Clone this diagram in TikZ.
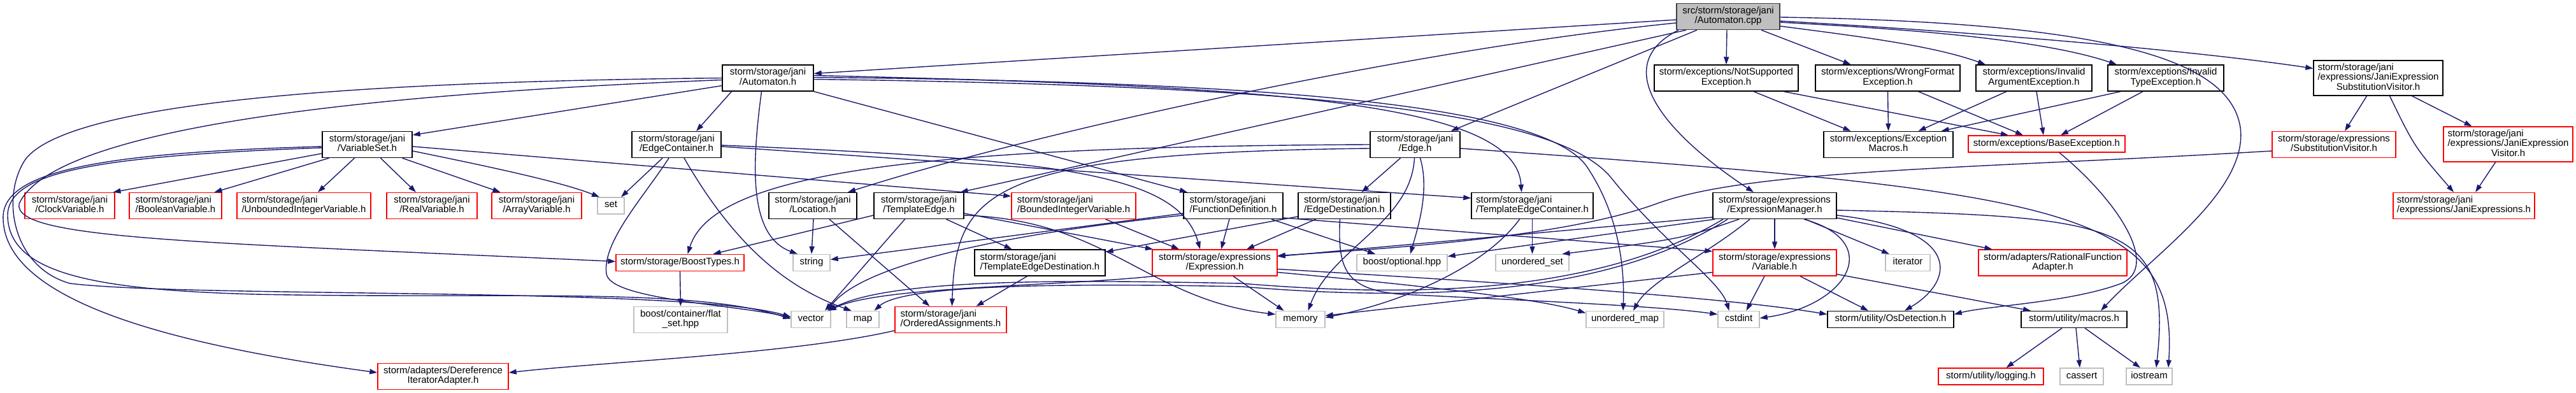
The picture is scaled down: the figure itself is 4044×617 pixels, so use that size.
\documentclass[tikz,border=0pt]{standalone}
\usepackage{fontspec}
\setmainfont{Liberation Sans}
\usetikzlibrary{arrows.meta,calc}
\definecolor{mblue}{HTML}{191970}
\definecolor{gryb}{HTML}{BFBFBF}
\definecolor{cppb}{HTML}{404040}
\newcommand{\twol}[2]{\begin{tabular}{@{}l@{}}#1\\\multicolumn{1}{@{}c@{}}{#2}\end{tabular}}
\newcommand{\threel}[3]{\begin{tabular}{@{}l@{}}#1\\#2\\\multicolumn{1}{@{}c@{}}{#3}\end{tabular}}
\newcommand{\onel}[1]{\begin{tabular}{@{}c@{}}#1\end{tabular}}
\begin{document}
\begin{tikzpicture}[x=1pt,y=-1pt,
  box/.style={draw=black,fill=white,line width=1.4pt,inner sep=0pt,font=\fontsize{15pt}{15pt}\selectfont},
  rbox/.style={box,draw=red},
  gbox/.style={box,draw=gryb},
  cbox/.style={box,draw=cppb,fill=gryb},
  hone/.style={minimum height=26pt},
  htwo/.style={minimum height=41pt},
  hthree/.style={minimum height=55pt},
  conn/.style={draw=mblue,line width=1.4pt,-{Triangle[length=12pt,width=8pt]}},
]
\fill[white] (0,0) rectangle (4044,617);
\useasboundingbox (0,0) rectangle (4044,617);

% row 0
\node[cbox,htwo,minimum width=162pt] (cpp) at (2713,26) {\twol{src/storm/storage/jani}{/Automaton.cpp}};
% row 1
\node[box,htwo,minimum width=143pt] (AutH) at (1205.5,122.5) {\twol{storm/storage/jani}{/Automaton.h}};
\node[box,htwo,minimum width=226pt] (NotSup) at (2710,122.5) {\twol{storm/exceptions/NotSupported}{Exception.h}};
\node[box,htwo,minimum width=227pt] (WrongF) at (2963.5,122.5) {\twol{storm/exceptions/WrongFormat}{Exception.h}};
\node[box,htwo,minimum width=182pt] (InvArg) at (3193,122.5) {\twol{storm/exceptions/Invalid}{ArgumentException.h}};
\node[box,htwo,minimum width=182pt] (InvType) at (3400,122.5) {\twol{storm/exceptions/Invalid}{TypeException.h}};
\node[box,hthree,minimum width=203pt] (JESV) at (3733.5,122.5) {\threel{storm/storage/jani}{/expressions/JaniExpression}{SubstitutionVisitor.h}};
% row 2
\node[box,htwo,minimum width=141pt] (VarSet) at (576.5,227) {\twol{storm/storage/jani}{/VariableSet.h}};
\node[box,htwo,minimum width=140pt] (EdgeCont) at (1062,227) {\twol{storm/storage/jani}{/EdgeContainer.h}};
\node[box,htwo,minimum width=141pt] (Edge) at (2221.5,227) {\twol{storm/storage/jani}{/Edge.h}};
\node[box,htwo,minimum width=203pt] (ExcMac) at (2964.5,227) {\twol{storm/exceptions/Exception}{Macros.h}};
\node[rbox,hone,minimum width=246pt] (BaseExc) at (3213,226) {\onel{storm/exceptions/BaseException.h}};
\node[rbox,htwo,minimum width=194pt] (SubstVis) at (3664,227) {\twol{storm/storage/expressions}{/SubstitutionVisitor.h}};
\node[rbox,hthree,minimum width=203pt] (JEVis) at (3937.5,226.5) {\threel{storm/storage/jani}{/expressions/JaniExpression}{Visitor.h}};
% row 3
\node[rbox,htwo,minimum width=141pt] (Clock) at (109.5,323) {\twol{storm/storage/jani}{/ClockVariable.h}};
\node[rbox,htwo,minimum width=145pt] (Bool) at (275.5,323) {\twol{storm/storage/jani}{/BooleanVariable.h}};
\node[rbox,htwo,minimum width=210pt] (Unb) at (477,323) {\twol{storm/storage/jani}{/UnboundedIntegerVariable.h}};
\node[rbox,htwo,minimum width=142pt] (Real) at (678,323) {\twol{storm/storage/jani}{/RealVariable.h}};
\node[rbox,htwo,minimum width=141pt] (Array) at (842.5,323) {\twol{storm/storage/jani}{/ArrayVariable.h}};
\node[gbox,hone,minimum width=42pt] (set) at (959,323) {\onel{set}};
\node[box,htwo,minimum width=138pt] (Loc) at (1276,323) {\twol{storm/storage/jani}{/Location.h}};
\node[box,htwo,minimum width=141pt] (TE) at (1442.5,323) {\twol{storm/storage/jani}{/TemplateEdge.h}};
\node[rbox,htwo,minimum width=195pt] (BInt) at (1685.5,323) {\twol{storm/storage/jani}{/BoundedIntegerVariable.h}};
\node[box,htwo,minimum width=156pt] (FuncDef) at (1936,323) {\twol{storm/storage/jani}{/FunctionDefinition.h}};
\node[box,htwo,minimum width=145pt] (EdgeDest) at (2110.5,323) {\twol{storm/storage/jani}{/EdgeDestination.h}};
\node[box,htwo,minimum width=191pt] (TEC) at (2405.5,323) {\twol{storm/storage/jani}{/TemplateEdgeContainer.h}};
\node[box,htwo,minimum width=194pt] (ExprMgr) at (2786,323) {\twol{storm/storage/expressions}{/ExpressionManager.h}};
\node[rbox,htwo,minimum width=222pt] (JaniExprs) at (3868,323) {\twol{storm/storage/jani}{/expressions/JaniExpressions.h}};
% row 4
\node[rbox,hone,minimum width=201pt] (BoostT) at (1067.5,412.5) {\onel{storm/storage/BoostTypes.h}};
\node[gbox,hone,minimum width=58pt] (string) at (1274,412.5) {\onel{string}};
\node[box,htwo,minimum width=205pt] (TED) at (1632.5,412.5) {\twol{storm/storage/jani}{/TemplateEdgeDestination.h}};
\node[rbox,htwo,minimum width=196pt] (Expr) at (1907,412.5) {\twol{storm/storage/expressions}{/Expression.h}};
\node[gbox,hone,minimum width=142pt] (bopt) at (2201,412.5) {\onel{boost/optional.hpp}};
\node[gbox,hone,minimum width=115pt] (uset) at (2405.5,412.5) {\onel{unordered\_set}};
\node[rbox,htwo,minimum width=194pt] (Var) at (2786,412.5) {\twol{storm/storage/expressions}{/Variable.h}};
\node[gbox,hone,minimum width=70pt] (iter) at (2995,412.5) {\onel{iterator}};
\node[rbox,htwo,minimum width=233pt] (RFA) at (3222.5,412.5) {\twol{storm/adapters/RationalFunction}{Adapter.h}};
% row 5
\node[gbox,htwo,minimum width=147pt] (flat) at (1068.5,502) {\twol{boost/container/flat}{\_set.hpp}};
\node[gbox,hone,minimum width=62pt] (vector) at (1273,501.5) {\onel{vector}};
\node[gbox,hone,minimum width=51pt] (map) at (1354.5,501.5) {\onel{map}};
\node[rbox,htwo,minimum width=175pt] (OA) at (1492.5,502) {\twol{storm/storage/jani}{/OrderedAssignments.h}};
\node[gbox,hone,minimum width=77pt] (memory) at (2041.5,501.5) {\onel{memory}};
\node[gbox,hone,minimum width=122pt] (umap) at (2551,501.5) {\onel{unordered\_map}};
\node[gbox,hone,minimum width=65pt] (cstdint) at (2729.5,501.5) {\onel{cstdint}};
\node[box,hone,minimum width=198pt] (OsDet) at (2968,501.5) {\onel{storm/utility/OsDetection.h}};
\node[box,hone,minimum width=166pt] (macros) at (3256,501.5) {\onel{storm/utility/macros.h}};
% row 6
\node[rbox,htwo,minimum width=205pt] (Deref) at (695.5,591) {\twol{storm/adapters/Dereference}{IteratorAdapter.h}};
\node[rbox,hone,minimum width=165pt] (logging) at (3125.5,591) {\onel{storm/utility/logging.h}};
\node[gbox,hone,minimum width=68pt] (cassert) at (3268,591) {\onel{cassert}};
\node[gbox,hone,minimum width=72pt] (iostream) at (3374,591) {\onel{iostream}};

% ---- edges from Automaton.cpp
\draw[conn] ([yshift=-5pt]cpp.west) -- ([yshift=7pt]AutH.east);
\draw[conn] ([yshift=-10pt]cpp.west) .. controls (2232,76) and (1640,203) .. ([xshift=55pt]Loc.north);
\draw[conn] ([xshift=-66pt]cpp.south) -- ([xshift=65pt]TE.north);
\draw[conn] ([xshift=-49pt]cpp.south) -- ([xshift=56pt]Edge.north);
\draw[conn] ([xshift=-2pt]cpp.south) -- (NotSup.north);
\draw[conn] ([xshift=52pt]cpp.south) -- ([xshift=-58pt]WrongF.north);
\draw[conn] ([yshift=-15pt]cpp.east) .. controls (2900,55) and (3030,70) .. ([xshift=-76pt]InvArg.north);
\draw[conn] ([yshift=-9pt]cpp.east) .. controls (2980,45) and (3200,60) .. ([xshift=-77pt]InvType.north);
\draw[conn] ([yshift=-7pt]cpp.east) .. controls (3100,50) and (3450,80) .. ([yshift=15pt]JESV.west);
\draw[conn] ([xshift=-78pt]cpp.south) .. controls (2530,100) and (2600,200) .. ([xshift=-33pt]ExprMgr.north);
\draw[conn] ([yshift=-1pt]cpp.east) .. controls (3300,35) and (3500,90) .. (3517,200) .. controls (3530,300) and (3380,400) .. ([xshift=42pt]macros.north);

% ---- Automaton.h
\draw[conn] ([yshift=-12pt]AutH.west) -- ([yshift=15pt]VarSet.east);
\draw[conn] ([xshift=-57pt]AutH.south) -- ([xshift=31pt]EdgeCont.north);
\draw[conn] ([xshift=-10pt]AutH.south) .. controls (1180,260) and (1175,370) .. ([xshift=-22pt]string.north);
\draw[conn] (AutH.south east) -- ([xshift=-72pt]FuncDef.north);
\draw[conn] ([yshift=4pt]AutH.east) .. controls (2000,135) and (2380,160) .. ([xshift=-17pt]TEC.north);
\draw[conn] ([yshift=1pt]AutH.east) .. controls (2000,128) and (2420,165) .. (2490,260) .. controls (2545,340) and (2550,430) .. ([xshift=-3pt]umap.north);
\draw[conn] ([yshift=-2pt]AutH.east) .. controls (2100,135) and (2450,180) .. (2530,280) .. controls (2610,380) and (2700,440) .. ([xshift=-15pt]cstdint.north);
\draw[conn] (AutH.west) .. controls (560,128) and (110,160) .. (40,250) .. controls (0,310) and (20,420) .. (110,445) .. controls (300,468) and (1080,450) .. ([yshift=4pt]vector.west);
\draw[conn] ([yshift=-3pt]AutH.west) .. controls (500,150) and (80,210) .. (30,320) .. controls (20,375) and (300,380) .. ([yshift=2pt]BoostT.west);

% ---- VariableSet.h
\draw[conn] ([yshift=-5pt]VarSet.west) .. controls (150,245) and (10,270) .. (12,340) .. controls (15,430) and (150,455) .. (400,462) .. controls (800,470) and (1080,450) .. ([yshift=1pt]vector.west);
\draw[conn] ([yshift=-3pt]VarSet.west) .. controls (150,240) and (0,270) .. (5,345) .. controls (10,480) and (300,545) .. ([yshift=6pt]Deref.west);
\draw[conn] ([yshift=-14pt]VarSet.west) -- ([xshift=68pt]Clock.north);
\draw[conn] ([xshift=-60pt]VarSet.south) -- ([xshift=61pt]Bool.north);
\draw[conn] ([xshift=-20pt]VarSet.south) -- ([xshift=22pt]Unb.north);
\draw[conn] ([xshift=21pt]VarSet.south) -- ([xshift=-25pt]Real.north);
\draw[conn] ([xshift=55pt]VarSet.south) -- ([xshift=-57pt]Array.north);
\draw[conn] ([yshift=-10pt]VarSet.east) .. controls (760,260) and (880,285) .. ([xshift=-18pt]set.north);
\draw[conn] ([yshift=-3pt]VarSet.east) -- ([yshift=15pt]BInt.west);

% ---- EdgeContainer.h
\draw[conn] ([xshift=-22pt]EdgeCont.south) -- ([xshift=16pt]set.north);
\draw[conn] ([xshift=-12pt]EdgeCont.south) .. controls (1010,310) and (945,380) .. (952,430) .. controls (958,470) and (1150,478) .. ([yshift=3pt]vector.west);
\draw[conn] ([xshift=12pt]EdgeCont.south) .. controls (1150,380) and (1230,450) .. ([xshift=-18pt]map.north);
\draw[conn] ([yshift=-3pt]EdgeCont.east) -- ([yshift=12pt]TEC.west);
\draw[conn] ([yshift=-1pt]EdgeCont.east) .. controls (1650,250) and (1850,270) .. ([xshift=-23pt]Expr.north);

% ---- Edge.h
\draw[conn] (Edge.west) .. controls (1450,230) and (1120,270) .. ([xshift=12pt]BoostT.north);
\draw[conn] ([yshift=-6pt]Edge.west) .. controls (1550,240) and (1500,300) .. ([xshift=2pt]OA.north);
\draw[conn] ([xshift=-23pt]Edge.south) -- ([xshift=27pt]EdgeDest.north);
\draw[conn] ([xshift=8pt]Edge.south) .. controls (2245,300) and (2225,360) .. ([xshift=13pt]bopt.north);
\draw[conn] ([xshift=-1pt]Edge.south) .. controls (2215,350) and (2090,390) .. ([xshift=12pt]memory.north);
\draw[conn] ([yshift=-6pt]Edge.east) .. controls (3250,300) and (3420,330) .. ([xshift=30pt]iostream.north);

% ---- TemplateEdge.h
\draw[conn] ([yshift=-15pt]TE.west) -- ([xshift=52pt]BoostT.north);
\draw[conn] ([xshift=-22pt]TE.south) -- ([xshift=22pt]vector.north);
\draw[conn] ([xshift=43pt]TE.south) -- ([xshift=-44pt]TED.north);
\draw[conn] ([yshift=-12pt]TE.east) -- ([xshift=-97pt]Expr.north);
\draw[conn] ([yshift=-15pt]TE.east) .. controls (1740,345) and (1800,470) .. ([yshift=8pt]memory.west);

% ---- Location.h
\draw[conn] ([xshift=1pt]Loc.south) -- (string.north);
\draw[conn] ([xshift=26pt]Loc.south) -- ([xshift=-33pt]OA.north);

% ---- BoundedIntegerVariable.h, FunctionDefinition.h, EdgeDestination.h
\draw[conn] ([xshift=50pt]BInt.south) -- ([xshift=-56pt]Expr.north);
\draw[conn] ([xshift=-6pt]FuncDef.south) -- ([xshift=10pt]Expr.north);
\draw[conn] ([yshift=-12pt]FuncDef.west) -- ([yshift=5pt]string.east);
\draw[conn] ([yshift=-15pt]FuncDef.west) .. controls (1550,370) and (1350,420) .. ([xshift=26pt]vector.north);
\draw[conn] ([xshift=60pt]FuncDef.south) -- ([xshift=-42pt]bopt.north);
\draw[conn] ([yshift=-19pt]FuncDef.east) -- ([yshift=18pt]Var.west);
\draw[conn] ([xshift=-45pt]EdgeDest.south) -- ([xshift=50pt]Expr.north);
\draw[conn] ([yshift=-17pt]EdgeDest.west) -- ([yshift=17pt]TED.east);
\draw[conn] ([xshift=-7pt]EdgeDest.south) .. controls (2100,420) and (2110,455) .. (2200,462) .. controls (2400,472) and (2600,480) .. ([yshift=8pt]cstdint.west);

% ---- lower middle
\draw[conn] ([xshift=-20pt]TED.south) -- ([xshift=40pt]OA.north);
\draw[conn] ([yshift=-17pt]OA.west) .. controls (1250,555) and (950,568) .. ([yshift=6pt]Deref.east);
\draw[conn] (BoostT.south) -- (flat.north);

% ---- Expression.h
\draw[conn] ([xshift=29pt]Expr.south) -- ([xshift=-26pt]memory.north);
\draw[conn] ([xshift=3pt]Expr.south west) .. controls (1650,450) and (1380,450) .. ([xshift=28pt]vector.north);
\draw[conn] ([yshift=-15pt]Expr.east) .. controls (2250,450) and (2420,470) .. ([yshift=10pt]umap.west);
\draw[conn] ([yshift=-10pt]Expr.east) .. controls (2300,440) and (2700,465) .. ([yshift=8pt]OsDet.west);

% ---- SubstitutionVisitor.h
\draw[conn] ([yshift=-10pt]SubstVis.west) .. controls (3100,265) and (2750,265) .. (2600,320) .. controls (2450,375) and (2150,392) .. ([yshift=11pt]Expr.east);

% ---- ExpressionManager.h
\draw[conn] ([yshift=-18pt]ExprMgr.west) -- ([yshift=10pt]Expr.east);
\draw[conn] ([xshift=-94pt]ExprMgr.south) -- ([yshift=10pt]bopt.east);
\draw[conn] ([xshift=-56pt]ExprMgr.south) .. controls (2640,375) .. ([xshift=47pt]uset.north);
\draw[conn] ([xshift=-39pt]ExprMgr.south) .. controls (2680,400) and (2590,440) .. ([xshift=13pt]umap.north);
\draw[conn] ([xshift=-81pt]ExprMgr.south) .. controls (2520,455) and (2250,470) .. (1950,445) .. controls (1700,440) and (1400,435) .. ([xshift=27pt]vector.north);
\draw[conn] ([xshift=-74pt]ExprMgr.south) .. controls (2530,460) and (2250,475) .. (1950,450) .. controls (1700,445) and (1420,445) .. ([xshift=18pt]map.north);
\draw[conn] ([xshift=46pt]ExprMgr.south) .. controls (2960,380) and (2900,480) .. ([yshift=2pt]cstdint.east);
\draw[conn] ([xshift=48pt]ExprMgr.south) -- ([xshift=-29pt]iter.north);
\draw[conn] (ExprMgr.south) -- (Var.north);
\draw[conn] ([yshift=-19pt]ExprMgr.east) -- ([xshift=-95pt]RFA.north);
\draw[conn] ([yshift=-15pt]ExprMgr.east) .. controls (3080,360) and (3070,440) .. ([xshift=22pt]OsDet.north);
\draw[conn] ([yshift=-7pt]ExprMgr.east) .. controls (3330,340) and (3410,350) .. ([xshift=11pt]iostream.north);

% ---- Variable.h
\draw[conn] ([xshift=-16pt]Var.south) -- ([xshift=12pt]cstdint.north);
\draw[conn] ([xshift=40pt]Var.south) -- ([xshift=-35pt]OsDet.north);
\draw[conn] ([yshift=-18pt]Var.east) -- ([xshift=-68pt]macros.north);
\draw[conn] ([yshift=-15pt]Var.west) -- ([yshift=6pt]memory.east);

% ---- TemplateEdgeContainer.h
\draw[conn] (TEC.south) -- (uset.north);
\draw[conn] ([xshift=-20pt]TEC.south) .. controls (2330,420) and (2200,475) .. ([yshift=3pt]memory.east);

% ---- exceptions
\draw[conn] ([xshift=43pt]NotSup.south) -- ([xshift=-59pt]ExcMac.north);
\draw[conn] ([xshift=90pt]NotSup.south) -- ([xshift=-60pt]BaseExc.north);
\draw[conn] (WrongF.south) -- (ExcMac.north);
\draw[conn] ([xshift=48pt]WrongF.south) -- ([xshift=-37pt]BaseExc.north);
\draw[conn] ([xshift=-43pt]InvArg.south) -- ([xshift=47pt]ExcMac.north);
\draw[conn] ([xshift=4pt]InvArg.south) -- ([xshift=-5pt]BaseExc.north);
\draw[conn] ([xshift=-71pt]InvType.south) -- ([xshift=83pt]ExcMac.north);
\draw[conn] ([xshift=-36pt]InvType.south) -- ([xshift=22pt]BaseExc.north);
\draw[conn] ([xshift=20pt]BaseExc.south) .. controls (3330,320) and (3390,420) .. (3330,445) .. controls (3250,475) and (3120,480) .. ([yshift=8pt]OsDet.east);

% ---- jani expression visitors
\draw[conn] ([xshift=-18pt]JESV.south) -- ([xshift=17pt]SubstVis.north);
\draw[conn] ([xshift=18pt]JESV.south) .. controls (3790,230) .. ([xshift=-16pt]JaniExprs.north);
\draw[conn] ([xshift=53pt]JESV.south) -- ([xshift=-57pt]JEVis.north);
\draw[conn] ([xshift=-20pt]JEVis.south) -- ([xshift=18pt]JaniExprs.north);

% ---- macros.h
\draw[conn] ([xshift=-19pt]macros.south) -- ([xshift=24pt]logging.north);
\draw[conn] ([xshift=3pt]macros.south) -- ([xshift=-3pt]cassert.north);
\draw[conn] ([xshift=17pt]macros.south) -- ([xshift=-14pt]iostream.north);
\end{tikzpicture}
\end{document}
